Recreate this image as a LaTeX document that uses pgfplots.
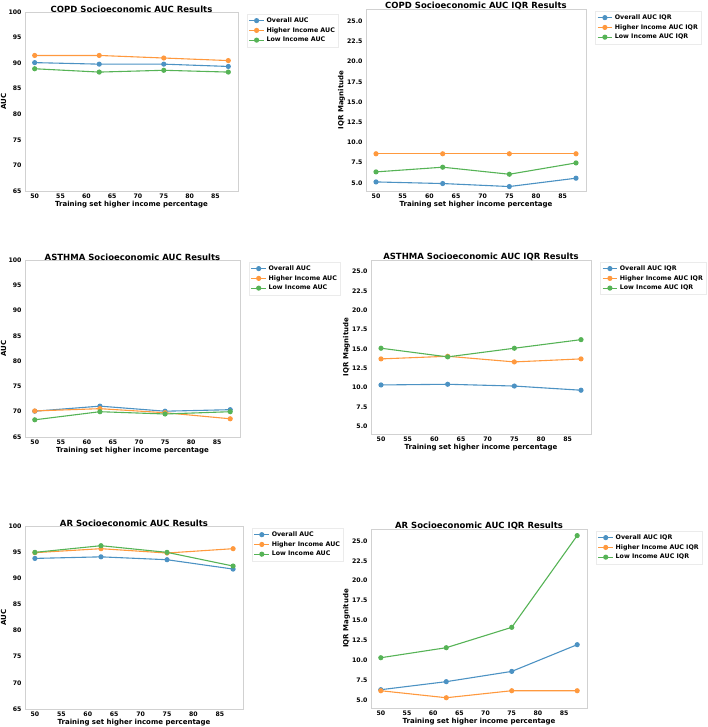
\documentclass[border=0pt]{standalone}
\usepackage{pgfplots}
\pgfplotsset{compat=1.18}
\usepackage{fontspec}
\setmainfont{DejaVu Sans}
\definecolor{cblue}{RGB}{76,146,195}
\definecolor{corange}{RGB}{255,153,62}
\definecolor{cgreen}{RGB}{86,179,86}
\pgfplotsset{
  base/.style={
    scale only axis, anchor=north west,
    xmin=48.125, xmax=89.375, xtick={50,55,...,85},
    axis line style={draw=black!18, line width=0.6pt},
    major tick length=0pt,
    /pgf/number format/assume math mode=true,
    tick label style={font=\bfseries\fontsize{6.2}{7}\selectfont},
    title style={font=\bfseries\fontsize{8.5}{10}\selectfont, yshift=-10pt},
    xlabel={Training set higher income percentage},
    xlabel style={font=\bfseries\fontsize{7}{8}\selectfont, yshift=4pt},
    ylabel style={font=\bfseries\fontsize{7}{8}\selectfont, yshift=-4.5pt},
    xticklabel style={yshift=1pt},
    legend style={at={(1.042,0.99)}, anchor=north west, draw=black!8,
      font=\bfseries\fontsize{6.3}{7.5}\selectfont, cells={anchor=west},
      inner sep=1.5pt, row sep=-0.5pt},
    legend image code/.code={\draw[mark repeat=2,mark phase=2,#1] plot coordinates {(0cm,0cm) (0.26cm,0cm) (0.52cm,0cm)};},
    clip=false,
  },
  auc/.style={base, ymin=65, ymax=100, ytick={65,70,...,100}, ylabel={AUC}},
  iqr/.style={base, ymin=4, ymax=26.5, ytick={5,7.5,10,12.5,15,17.5,20,22.5,25},
    yticklabel style={/pgf/number format/.cd, fixed, fixed zerofill, precision=1},
    ylabel={IQR Magnitude}},
  sb/.style={color=cblue, line width=1.1pt, mark=*, mark size=2pt, mark options={solid}},
  so/.style={color=corange, line width=1.1pt, mark=*, mark size=2pt, mark options={solid}},
  sg/.style={color=cgreen, line width=1.1pt, mark=*, mark size=2pt, mark options={solid}},
}
\begin{document}
\begin{tikzpicture}[x=1pt,y=1pt]
\useasboundingbox (0,0) rectangle (708,727);
% COPD AUC
\begin{axis}[auc, at={(25pt,715pt)}, width=213pt, height=179pt, title={COPD Socioeconomic AUC Results}]
\addplot[sb] coordinates {(50,90.1) (62.5,89.8) (75,89.8) (87.5,89.35)};
\addplot[so] coordinates {(50,91.5) (62.5,91.5) (75,91.0) (87.5,90.5)};
\addplot[sg] coordinates {(50,88.9) (62.5,88.25) (75,88.6) (87.5,88.25)};
\legend{Overall AUC, Higher Income AUC, Low Income AUC}
\end{axis}
% COPD IQR
\begin{axis}[iqr, at={(366pt,718pt)}, width=220pt, height=182pt, title={COPD Socioeconomic AUC IQR Results}]
\addplot[sb] coordinates {(50,5.12) (62.5,4.92) (75,4.55) (87.5,5.58)};
\addplot[so] coordinates {(50,8.6) (62.5,8.6) (75,8.6) (87.5,8.6)};
\addplot[sg] coordinates {(50,6.36) (62.5,6.94) (75,6.07) (87.5,7.47)};
\legend{Overall AUC IQR, Higher Income AUC IQR, Low Income AUC IQR}
\end{axis}
% ASTHMA AUC
\begin{axis}[auc, at={(25pt,467pt)}, width=215pt, height=177pt, title={ASTHMA Socioeconomic AUC Results}]
\addplot[sb] coordinates {(50,70.1) (62.5,71.1) (75,70.1) (87.5,70.4)};
\addplot[so] coordinates {(50,70.15) (62.5,70.6) (75,69.8) (87.5,68.6)};
\addplot[sg] coordinates {(50,68.4) (62.5,70.0) (75,69.55) (87.5,70.0)};
\legend{Overall AUC, Higher Income AUC, Low Income AUC}
\end{axis}
% ASTHMA IQR
\begin{axis}[iqr, at={(371pt,467pt)}, width=220pt, height=174pt, title={ASTHMA Socioeconomic AUC IQR Results}]
\addplot[sb] coordinates {(50,10.34) (62.5,10.43) (75,10.2) (87.5,9.66)};
\addplot[so] coordinates {(50,13.71) (62.5,14.05) (75,13.32) (87.5,13.71)};
\addplot[sg] coordinates {(50,15.09) (62.5,13.97) (75,15.09) (87.5,16.2)};
\legend{Overall AUC IQR, Higher Income AUC IQR, Low Income AUC IQR}
\end{axis}
% AR AUC
\begin{axis}[auc, at={(25pt,201pt)}, width=218pt, height=183pt, title={AR Socioeconomic AUC Results}]
\addplot[sb] coordinates {(50,93.8) (62.5,94.1) (75,93.55) (87.5,91.76)};
\addplot[so] coordinates {(50,94.9) (62.5,95.66) (75,94.83) (87.5,95.66)};
\addplot[sg] coordinates {(50,94.96) (62.5,96.23) (75,94.96) (87.5,92.34)};
\legend{Overall AUC, Higher Income AUC, Low Income AUC}
\end{axis}
% AR IQR
\begin{axis}[iqr, at={(371pt,198pt)}, width=216pt, height=179pt, title={AR Socioeconomic AUC IQR Results}]
\addplot[sb] coordinates {(50,6.3) (62.5,7.31) (75,8.6) (87.5,11.96)};
\addplot[so] coordinates {(50,6.17) (62.5,5.29) (75,6.17) (87.5,6.17)};
\addplot[sg] coordinates {(50,10.32) (62.5,11.58) (75,14.14) (87.5,25.67)};
\legend{Overall AUC IQR, Higher Income AUC IQR, Low Income AUC IQR}
\end{axis}
\end{tikzpicture}
\end{document}
